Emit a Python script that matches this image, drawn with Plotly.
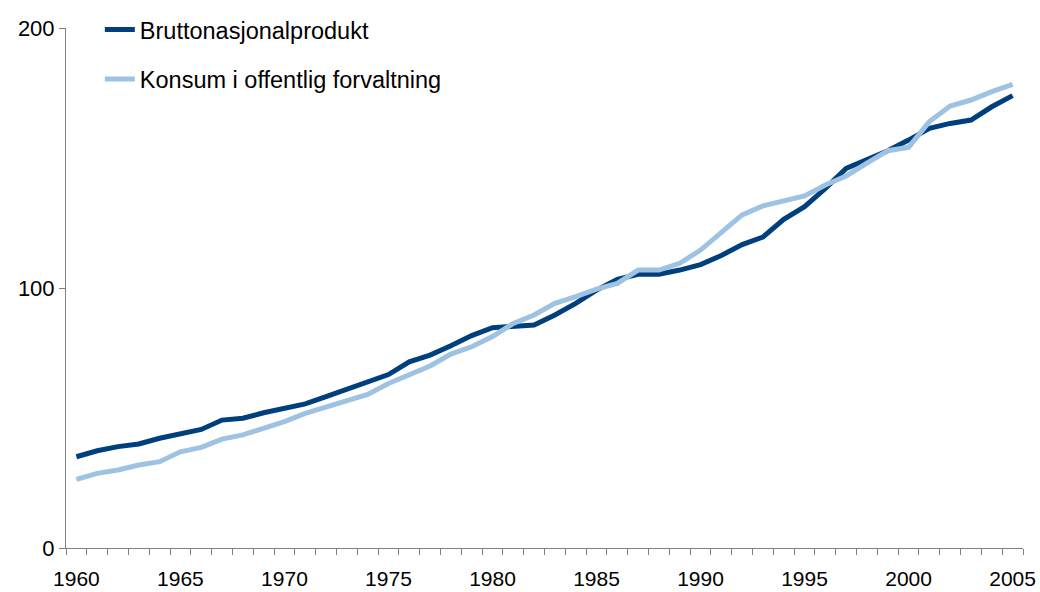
import plotly.graph_objects as go

years = list(range(1960, 2006))

bnp = [35.1, 37.4, 39.0, 40.0, 42.2, 44.1, 45.6, 49.2, 49.9, 52.0,
       53.5, 55.4, 58.2, 61.0, 63.8, 66.7, 71.6, 74.2, 77.8, 81.7,
       84.7, 85.1, 85.8, 89.6, 94.1, 99.2, 103.3, 105.3, 105.3, 106.9,
       109.0, 112.5, 116.7, 119.6, 126.4, 131.3, 138.3, 146.0, 149.2, 152.8,
       156.9, 161.4, 163.3, 164.6, 169.7, 174.0]

konsum = [26.4, 28.7, 30.0, 31.9, 33.2, 37.0, 38.7, 41.9, 43.5, 46.0,
          48.6, 51.8, 54.1, 56.7, 59.1, 63.3, 66.4, 70.0, 74.6, 77.4,
          81.3, 86.4, 89.6, 94.1, 96.7, 99.6, 101.8, 106.9, 106.9, 109.5,
          114.6, 121.3, 128.1, 131.6, 133.5, 135.4, 139.6, 143.1, 148.0, 152.8,
          154.1, 164.0, 170.0, 172.3, 175.5, 178.3]

label_years = [1960, 1965, 1970, 1975, 1980, 1985, 1990, 1995, 2000, 2005]
y_ticks = [0, 100, 200]

DARK = "#003F7D"
LIGHT = "#9EC3E2"
AXIS = "#808080"
FONT = "Liberation Sans, Arial, sans-serif"

W, H = 1040, 592

fig = go.Figure()
fig.add_trace(go.Scatter(x=years, y=bnp, mode="lines", name="Bruttonasjonalprodukt",
                         line=dict(color=DARK, width=5), legendgroup="a"))
fig.add_trace(go.Scatter(x=years, y=konsum, mode="lines", name="Konsum i offentlig forvaltning",
                         line=dict(color=LIGHT, width=5), legendgroup="b"))

# zero margins + domains, so the legend doesn't push the plot area around
fig.update_layout(
    width=W, height=H,
    margin=dict(l=0, r=0, t=0, b=0),
    paper_bgcolor="white", plot_bgcolor="white",
    font=dict(family=FONT, size=22, color="black"),
    showlegend=True,
    legend=dict(x=0.096, y=0.987, xanchor="left", yanchor="top",
                bgcolor="rgba(0,0,0,0)", tracegroupgap=16,
                font=dict(size=23.5)),
)

fig.update_xaxes(
    domain=[66 / W, 1023 / W],
    range=[1959.5, 2005.5], automargin=False,
    tickvals=label_years, ticktext=[str(y) for y in label_years],
    tickfont=dict(size=21),
    ticks="", ticklabelstandoff=12,
    showline=True, linecolor=AXIS, linewidth=1,
    showgrid=False, zeroline=False,
    minor=dict(tick0=1959.5, dtick=1, ticks="outside", ticklen=6,
               tickcolor=AXIS, showgrid=False),
)

fig.update_yaxes(
    domain=[1 - 548 / H, 1 - 28 / H],
    range=[0, 200], tickvals=y_ticks, automargin=False,
    ticks="outside", ticklen=6, tickcolor=AXIS,
    showline=True, linecolor=AXIS, linewidth=1,
    showgrid=False, zeroline=False,
)

# drop the default page margin so the figure sits at the window's corner
fig.write_html("out.html", config={"displayModeBar": False},
               post_script="document.body.style.margin='0';")
